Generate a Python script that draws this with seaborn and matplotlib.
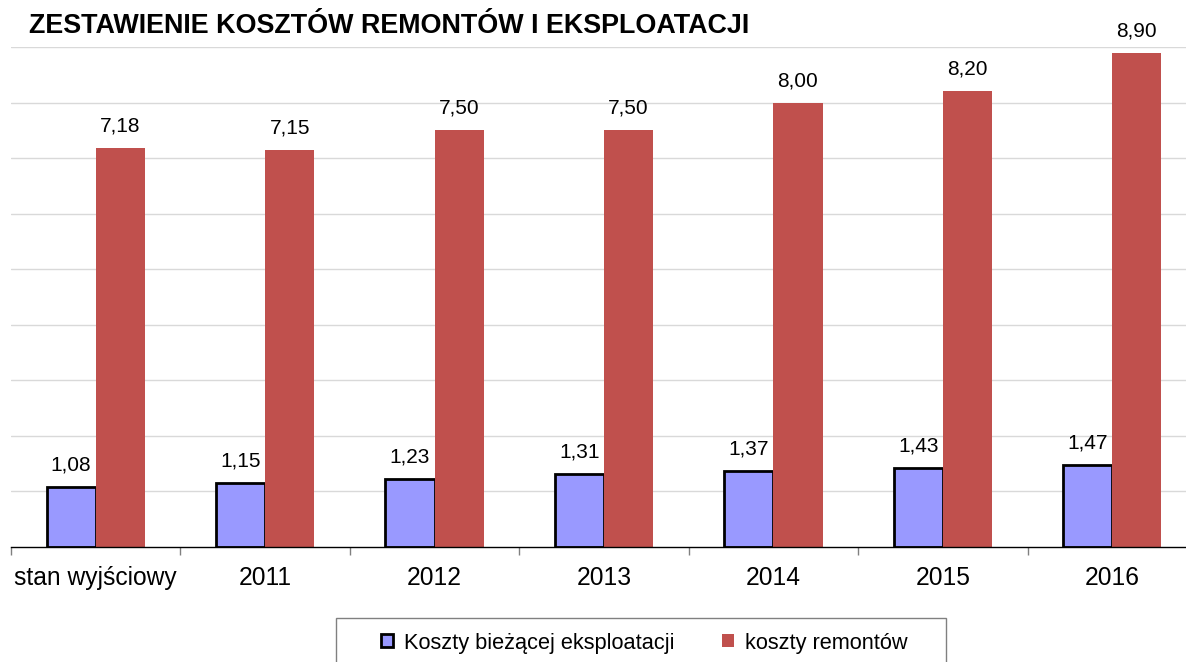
import seaborn as sns
import pandas as pd
import matplotlib.pyplot as plt
from matplotlib.patches import Patch, Rectangle

kategorie = ["stan wyjściowy", "2011", "2012", "2013", "2014", "2015", "2016"]
eksploatacja = [1.08, 1.15, 1.23, 1.31, 1.37, 1.43, 1.47]
remonty = [7.18, 7.15, 7.50, 7.50, 8.00, 8.20, 8.90]
serie = ["Koszty bieżącej eksploatacji", "koszty remontów"]
kolory = ["#9999FF", "#C0504D"]

df = pd.DataFrame({
    "kategoria": kategorie * 2,
    "wartosc": eksploatacja + remonty,
    "seria": [serie[0]] * len(kategorie) + [serie[1]] * len(kategorie),
})

sns.set_style("white")
plt.rcParams["font.family"] = ["Liberation Sans", "DejaVu Sans"]
plt.rcParams["text.color"] = "black"
plt.rcParams["xtick.labelcolor"] = "black"

W, H = 1186, 662
fig = plt.figure(figsize=(W / 100, H / 100), dpi=100)
ax = fig.add_axes([11 / W, 115 / H, 1186 / W, 500 / H])

sns.barplot(data=df, x="kategoria", y="wartosc", hue="seria", palette=kolory,
            width=0.58, gap=0, saturation=1, legend=False, ax=ax)

# blue bars have black outline, red ones none
for bar in ax.containers[0]:
    bar.set_edgecolor("black")
    bar.set_linewidth(2)
for bar in ax.containers[1]:
    bar.set_linewidth(0)

for cont in ax.containers:
    for bar in cont:
        h = bar.get_height()
        ax.annotate(f"{h:.2f}".replace(".", ","),
                    (bar.get_x() + bar.get_width() / 2, h),
                    xytext=(0, 9), textcoords="offset points",
                    ha="center", va="bottom", fontsize=15, color="black")

ax.set_ylim(0, 9)
ax.set_xlim(-0.5, 6.5)
ax.set_yticks(range(1, 10))
ax.yaxis.grid(True, color="#d9d9d9", linewidth=1)
ax.set_axisbelow(True)
ax.tick_params(axis="y", left=False, labelleft=False)
ax.set_xticks(range(len(kategorie)))
ax.set_xticklabels(kategorie, fontsize=17.7, color="black")
ax.set_xticks([i - 0.5 for i in range(len(kategorie) + 1)], minor=True)
ax.tick_params(axis="x", which="major", length=0, pad=14)
ax.tick_params(axis="x", which="minor", length=6, color="#808080", width=1, bottom=True)
ax.set_xlabel("")
ax.set_ylabel("")
for s in ["top", "right", "left"]:
    ax.spines[s].set_visible(False)
ax.spines["bottom"].set_color("black")
ax.spines["bottom"].set_linewidth(1)

fig.text(29 / W, 1 - 33 / H, "ZESTAWIENIE KOSZTÓW REMONTÓW I EKSPLOATACJI",
         fontsize=19.4, fontweight="bold", ha="left", va="baseline", color="black")

# legend frame
fig.add_artist(Rectangle((336 / W, -0.02), (946 - 336) / W, (H - 618) / H + 0.02,
                         transform=fig.transFigure, fill=False,
                         edgecolor="#808080", linewidth=1))

uchwyty = [Patch(facecolor=kolory[0], edgecolor="black", linewidth=2),
           Patch(facecolor=kolory[1], edgecolor="none")]
leg = fig.legend(uchwyty, serie, loc="center left", bbox_to_anchor=(381 / W, 1 - 643 / H),
                 ncol=2, fontsize=15.7, frameon=False,
                 handlelength=0.55, handleheight=0.55, handletextpad=0.5,
                 columnspacing=2.2, borderpad=0, borderaxespad=0)
for t in leg.get_texts():
    t.set_color("black")

fig.savefig("out.png", dpi=100)
